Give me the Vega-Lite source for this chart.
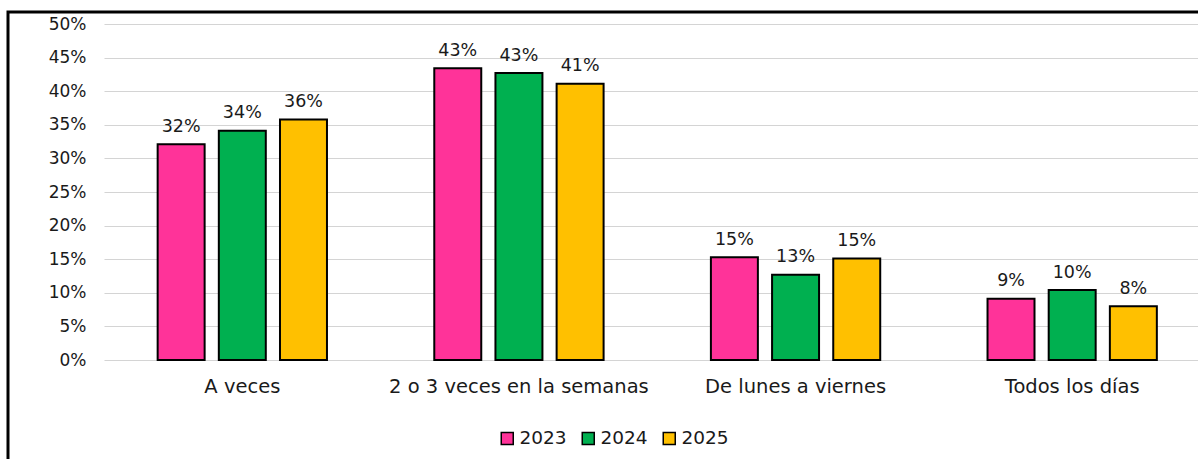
{
  "$schema": "https://vega.github.io/schema/vega-lite/v6.json",
  "autosize": {"type": "none"},
  "padding": {"left": 8, "top": 12, "right": 0, "bottom": 0},
  "width": 1194,
  "height": 451,
  "background": "white",
  "config": {
    "view": {"stroke": "black", "strokeWidth": 3},
    "font": "DejaVu Sans"
  },
  "data": {
    "values": [
      {"cat": "A veces", "year": "2023", "v": 0.321},
      {"cat": "A veces", "year": "2024", "v": 0.341},
      {"cat": "A veces", "year": "2025", "v": 0.358},
      {"cat": "2 o 3 veces en la semanas", "year": "2023", "v": 0.434},
      {"cat": "2 o 3 veces en la semanas", "year": "2024", "v": 0.427},
      {"cat": "2 o 3 veces en la semanas", "year": "2025", "v": 0.411},
      {"cat": "De lunes a viernes", "year": "2023", "v": 0.153},
      {"cat": "De lunes a viernes", "year": "2024", "v": 0.127},
      {"cat": "De lunes a viernes", "year": "2025", "v": 0.151},
      {"cat": "Todos los días", "year": "2023", "v": 0.091},
      {"cat": "Todos los días", "year": "2024", "v": 0.104},
      {"cat": "Todos los días", "year": "2025", "v": 0.080}
    ]
  },
  "encoding": {
    "x": {
      "field": "cat",
      "type": "nominal",
      "sort": ["A veces", "2 o 3 veces en la semanas", "De lunes a viernes", "Todos los días"],
      "scale": {"range": [96, 1202.5], "paddingInner": 0, "paddingOuter": 0},
      "axis": {
        "title": null,
        "orient": "bottom",
        "offset": -103,
        "domain": false,
        "ticks": false,
        "grid": false,
        "labelAngle": 0,
        "labelPadding": 26,
        "labelBaseline": "middle",
        "labelFontSize": 19.5,
        "labelColor": "#1a1a1a",
        "labelLimit": 400
      }
    },
    "xOffset": {
      "field": "year",
      "type": "nominal",
      "scale": {"paddingInner": 0.232, "paddingOuter": 0.877}
    },
    "y": {
      "field": "v",
      "type": "quantitative",
      "scale": {"domain": [0, 0.5], "range": [348, 12], "nice": false},
      "axis": {
        "title": null,
        "values": [0, 0.05, 0.1, 0.15, 0.2, 0.25, 0.3, 0.35, 0.4, 0.45, 0.5],
        "format": ".0%",
        "offset": -88,
        "domain": false,
        "ticks": false,
        "grid": true,
        "gridColor": "#d4d4d4",
        "gridWidth": 1.2,
        "labelPadding": 10,
        "labelFontSize": 17,
        "labelColor": "#1a1a1a"
      }
    }
  },
  "layer": [
    {
      "mark": {"type": "bar", "stroke": "black", "strokeWidth": 2},
      "encoding": {
        "color": {
          "field": "year",
          "type": "nominal",
          "scale": {"domain": ["2023", "2024", "2025"], "range": ["#FF3399", "#00B050", "#FFC000"]},
          "legend": {
            "orient": "none",
            "legendX": 490,
            "legendY": 417,
            "direction": "horizontal",
            "title": null,
            "symbolType": "square",
            "symbolSize": 144,
            "symbolStrokeColor": "black",
            "symbolStrokeWidth": 1.5,
            "symbolOpacity": 1,
            "labelFontSize": 18.5,
            "labelColor": "#1a1a1a",
            "labelOffset": 3,
            "columnPadding": 12
          }
        }
      }
    },
    {
      "mark": {"type": "text", "baseline": "middle", "dy": -17.5, "fontSize": 17.5, "color": "#1a1a1a"},
      "encoding": {
        "text": {"field": "v", "type": "quantitative", "format": ".0%"}
      }
    }
  ]
}
